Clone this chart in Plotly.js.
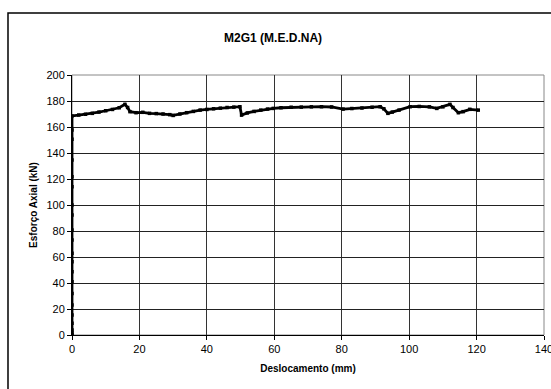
<!DOCTYPE html>
<html>
<head>
<meta charset="utf-8">
<script src="https://cdn.plot.ly/plotly-3.0.1.min.js"></script>
<style>html,body{margin:0;padding:0;background:#fff;}#chart{width:551px;height:389px;}</style>
</head>
<body>
<div id="chart"></div>
<script>
// Deslocamento (mm)
const deslocamento = [0,0,0,0,0,0,0,0,0,0,0,0,0,0,0,0,0,0,0,0,0,
  2,4,6,8,10,12,14,15.7,16.5,17.2,19,21,23,25,27,29,30,32,34,36,38,40,42,44,46,48,49.8,
  50.3,52,54,56,58,59.7,62,65,68,71,74,77,80.4,83,86,89,91.4,92.5,93.7,95,97,100.3,103,106,108.2,110,112.1,113,114.6,116,118,120.5];
// Esforço Axial (kN)
const esforco = [0,1.5,3.8,9,15.4,23,32,41,48.7,56.4,62.8,73,80.8,92.3,100,114,121.8,134.6,150.5,157.7,168.5,
  169.2,169.8,170.5,171.5,172.5,173.5,174.8,177.4,175,171.8,171,171.3,170.5,170.3,170,169.5,168.9,170,171,172,173,173.5,174,174.5,175,175.3,175.6,
  169.2,170.8,172,173,173.8,174.3,174.8,175.2,175.3,175.5,175.6,175.4,173.8,174.2,174.6,175.2,175.6,174,170.5,171.5,173,175.6,175.8,175.5,174.3,175.5,177.4,175,171,171.8,173.6,173];

const xTicks = [0,20,40,60,80,100,120,140];
const yTicks = [0,20,40,60,80,100,120,140,160,180,200];

const trace = {
  x: deslocamento, y: esforco, type: 'scatter', mode: 'lines+markers',
  line: {color: '#000', width: 2.8},
  marker: {color: '#000', size: 3.5, symbol: 'square'},
  hoverinfo: 'none', showlegend: false
};

const layout = {
  width: 551, height: 389,
  margin: {l: 72, r: 7, t: 75, b: 54},
  paper_bgcolor: '#fff', plot_bgcolor: '#fff',
  font: {family: 'Arial, Liberation Sans, sans-serif', color: '#000'},
  title: {text: '<b>M2G1 (M.E.D.NA)</b>', font: {size: 12, color: '#000'},
    x: 0.426, xref: 'paper', xanchor: 'center', y: 33, yref: 'container', yanchor: 'middle'},
  xaxis: {
    range: [0, 140], tickvals: xTicks, ticktext: xTicks.map(String),
    showgrid: true, gridcolor: '#333', gridwidth: 1,
    showline: true, linecolor: '#000', linewidth: 1,
    ticks: 'outside', ticklen: 4, tickcolor: '#000', ticklabeloverflow: 'allow',
    tickfont: {size: 11, color: '#000'}, zeroline: false, mirror: false,
    title: {text: '<b>Deslocamento (mm)</b>', font: {size: 10, color: '#000'}, standoff: 10}
  },
  yaxis: {
    range: [0, 200], tickvals: yTicks, ticktext: yTicks.map(String),
    showgrid: true, gridcolor: '#222', gridwidth: 1,
    showline: true, linecolor: '#000', linewidth: 1,
    ticks: 'outside', ticklen: 4, tickcolor: '#000',
    tickfont: {size: 11, color: '#000'}, zeroline: false,
    title: {text: '<b>Esforço Axial (kN)</b>', font: {size: 10, color: '#000'}, standoff: 6}
  },
  shapes: [
    {type: 'rect', xref: 'paper', yref: 'paper', x0: 0, x1: 1, y0: 0, y1: 1,
     line: {color: '#888', width: 1}, fillcolor: 'rgba(0,0,0,0)', layer: 'below'},
    {type: 'rect', xref: 'paper', yref: 'paper', x0: -0.1356, x1: 1.2, y0: -0.4, y1: 1.238,
     line: {color: '#000', width: 1.5}, fillcolor: 'rgba(0,0,0,0)'}
  ]
};

Plotly.newPlot('chart', [trace], layout, {staticPlot: true, displayModeBar: false});
</script>
</body>
</html>
